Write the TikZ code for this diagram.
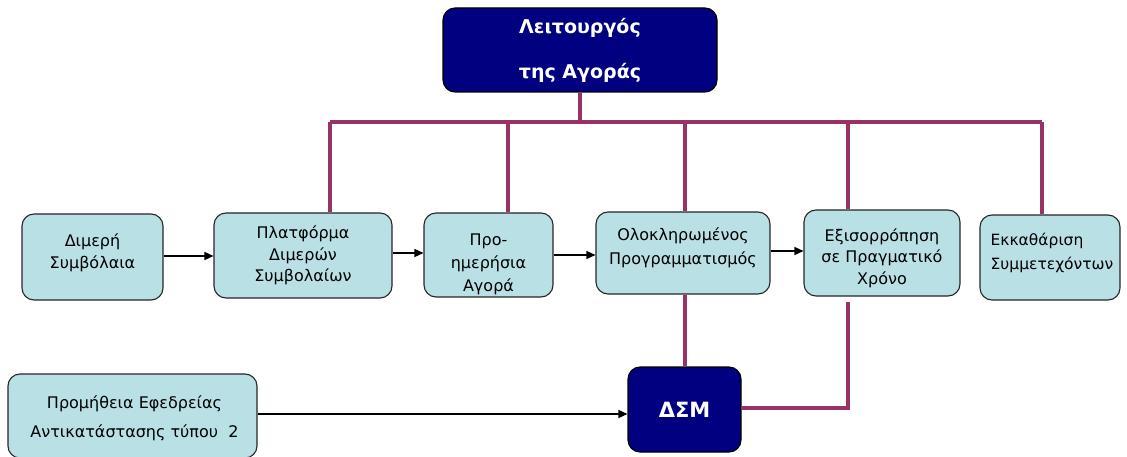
\documentclass[tikz,border=0pt]{standalone}
\usepackage{fontspec}
\setmainfont{DejaVu Sans}
\usetikzlibrary{arrows.meta}
\definecolor{boxfill}{RGB}{185,224,228}
\definecolor{navy}{RGB}{0,0,128}
\definecolor{bus}{RGB}{153,51,102}
\tikzset{
  lbox/.style={draw=black!85, line width=1.1pt, fill=boxfill, rounded corners=12pt, inner sep=0pt},
  txt/.style={align=center, inner sep=0pt, font=\fontsize{16}{21.5}\selectfont},
  dbox/.style={draw=black, line width=1.1pt, fill=navy, rounded corners=12pt,
    align=center, text=white, inner sep=2pt},
  busline/.style={draw=bus, line width=3.6pt},
  arr/.style={draw=black, line width=1.4pt, -{Triangle[length=9pt,width=8pt]}},
}
\begin{document}
\begin{tikzpicture}[x=1pt,y=-1pt]
\useasboundingbox (0,0) rectangle (1127,457);
% top
\node[dbox, minimum width=274pt, minimum height=84pt, font=\fontsize{19}{45}\selectfont\bfseries] (top) at (580,50) {Λειτουργός\\της Αγοράς};
% row
\node[lbox, minimum width=141pt, minimum height=86pt,
  label={[txt, yshift=4pt]center:{Διμερή\\Συμβόλαια}}] (dim) at (92.5,257) {};
\node[lbox, minimum width=178pt, minimum height=85pt,
  label={[txt]center:{Πλατφόρμα\\Διμερών\\Συμβολαίων}}] (plat) at (303,255.5) {};
\node[lbox, minimum width=129pt, minimum height=84pt,
  label={[txt, font=\fontsize{16}{23}\selectfont, yshift=-9pt]center:{Προ-\\ημερήσια\\Αγορά}}] (pro) at (488.5,255) {};
\node[lbox, minimum width=174pt, minimum height=82pt,
  label={[txt, font=\fontsize{16}{24}\selectfont, yshift=5pt]center:{Ολοκληρωμένος\\Προγραμματισμός}}] (olo) at (683,253) {};
\node[lbox, minimum width=156pt, minimum height=86pt,
  label={[txt, yshift=-5pt]center:{Εξισορρόπηση\\σε Πραγματικό\\Χρόνο}}] (exi) at (882,253) {};
\node[lbox, minimum width=140pt, minimum height=85pt,
  label={[txt, font=\fontsize{15.5}{24}\selectfont, align=left, yshift=4.5pt, xshift=2pt]center:{Εκκαθάριση\\Συμμετεχόντων}}] (ekk) at (1050,257.5) {};
% bottom
\node[lbox, minimum width=249pt, minimum height=84pt,
  label={[txt, font=\fontsize{16}{29}\selectfont, yshift=-2pt, xshift=2pt]center:{Προμήθεια Εφεδρείας\\Αντικατάστασης τύπου\ \ 2}}] (prom) at (132.5,416) {};
\node[dbox, minimum width=113pt, minimum height=85pt, font=\fontsize{21}{28}\selectfont\bfseries] (dsm) at (684.5,409.5) {ΔΣΜ};
% bus
\coordinate (bl) at (330,122);
\coordinate (bm) at (580,122);
\coordinate (br) at (1042,122);
\coordinate (b2) at (508,122);
\coordinate (b3) at (685,122);
\coordinate (b4) at (848,122);
\coordinate (c5) at (848,302);
\draw[busline] (top.south -| bm) -- (bm);
\draw[busline] (bl) -- (br);
\draw[busline] (bl) -- (bl |- plat.north);
\draw[busline] (b2) -- (b2 |- pro.north);
\draw[busline] (b3) -- (b3 |- olo.north);
\draw[busline] (b4) -- (b4 |- exi.north);
\draw[busline] (br) -- (br |- ekk.north);
\draw[busline] (olo.south -| b3) -- (dsm.north -| b3);
\draw[busline] ([yshift=1.5pt]dsm.east) -- ([yshift=1.5pt]dsm.east -| c5) -- (c5);
% arrows
\draw[arr] ([yshift=1pt]dim.east) -- ([yshift=1pt]dim.east -| plat.west);
\draw[arr] ([yshift=2.5pt]plat.east) -- ([yshift=2.5pt]plat.east -| pro.west);
\draw[arr] (pro.east) -- (pro.east -| olo.west);
\draw[arr] ([yshift=2pt]olo.east) -- ([yshift=2pt]olo.east -| exi.west);
\draw[arr] ([yshift=2pt]prom.east) -- ([yshift=2pt]prom.east -| dsm.west);
\end{tikzpicture}
\end{document}
